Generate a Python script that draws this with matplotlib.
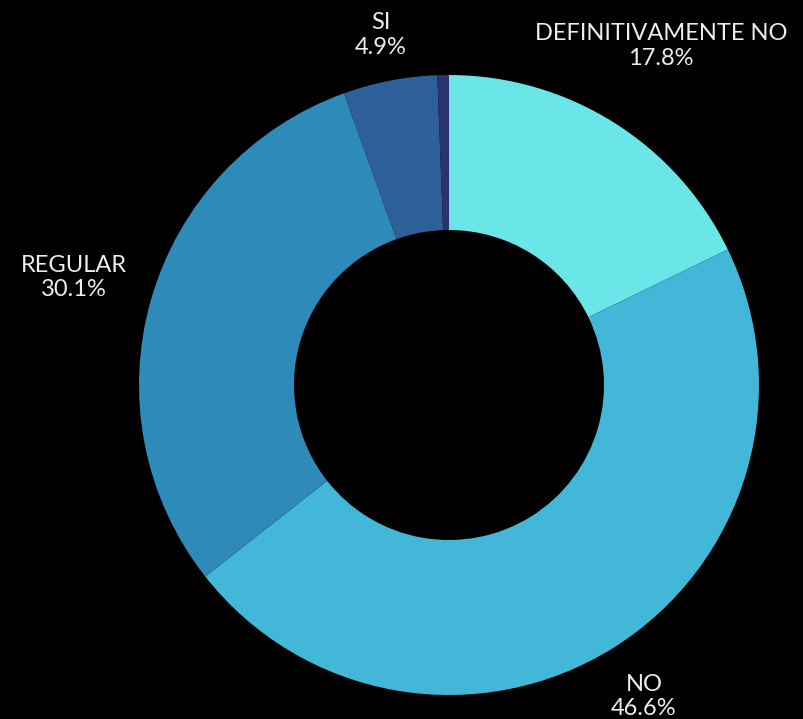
import matplotlib.pyplot as plt
import numpy as np

categories = ["DEFINITIVAMENTE NO", "NO", "REGULAR", "SI", ""]
shares = [17.8, 46.6, 30.1, 4.9, 0.6]
colors = ["#6AE5E8", "#42B7D7", "#2E8AB9", "#2D5F99", "#2C3170"]

# label distance from centre, in units of the outer radius
label_dist = [1.29, 1.185, 1.26, 1.15, 1.2]

W, H = 804, 719
cx, cy, R = 449, H - 385, 310

fig = plt.figure(figsize=(W / 100, H / 100), dpi=100, facecolor="black")
ax = fig.add_axes([0, 0, 1, 1])
ax.set_facecolor("black")

wedges, _ = ax.pie(shares, colors=colors, startangle=90, counterclock=False,
                   center=(cx, cy), radius=R, frame=True,
                   wedgeprops=dict(width=R * 0.5, linewidth=0))
ax.set_xlim(0, W)
ax.set_ylim(0, H)
ax.set_aspect("equal")
ax.axis("off")

for w, name, val, d in zip(wedges, categories, shares, label_dist):
    if not name:
        continue
    ang = np.deg2rad((w.theta1 + w.theta2) / 2)
    x = cx + d * R * np.cos(ang)
    y = cy + d * R * np.sin(ang)
    ax.text(x, y, f"{name}\n{val:.1f}%", ha="center", va="center",
            color="#EDEDED", fontsize=17, family="Lato", linespacing=1.18)

fig.savefig("out.png", dpi=100, facecolor="black")
